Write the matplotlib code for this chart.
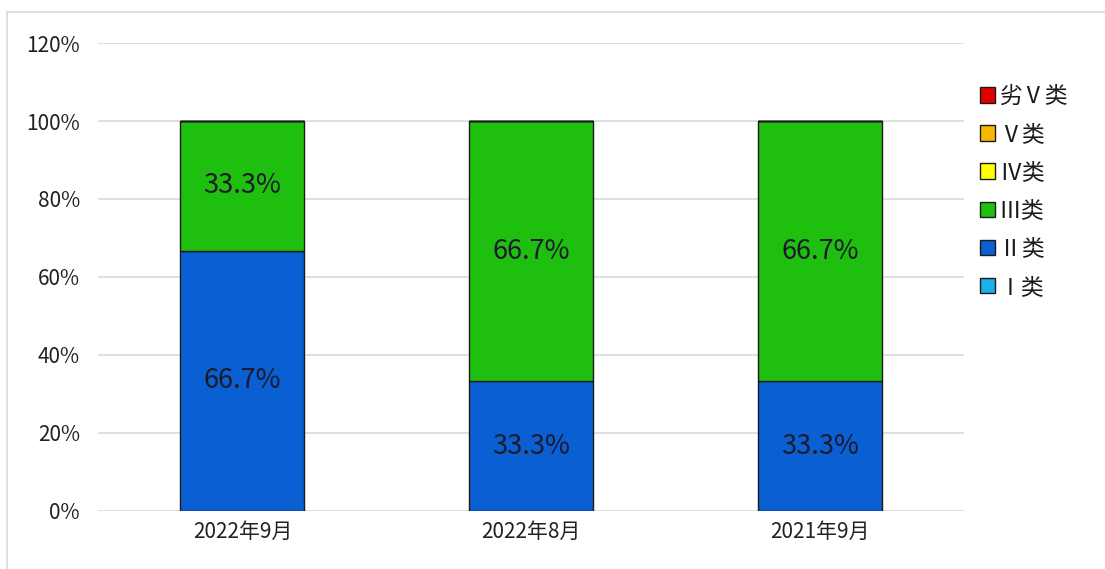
import matplotlib
matplotlib.use("Agg")
import matplotlib.pyplot as plt
from matplotlib.patches import Rectangle
from matplotlib.ticker import MultipleLocator, FuncFormatter

plt.rcParams['font.family'] = ['Noto Sans CJK SC', 'DejaVu Sans']

# data
periods = ["2022年9月", "2022年8月", "2021年9月"]
classes = ["Ⅰ类", "Ⅱ类", "Ⅲ类", "Ⅳ类", "Ⅴ类", "劣Ⅴ类"]
shares = {
    "Ⅰ类": [0.0, 0.0, 0.0],
    "Ⅱ类": [66.7, 33.3, 33.3],
    "Ⅲ类": [33.3, 66.7, 66.7],
    "Ⅳ类": [0.0, 0.0, 0.0],
    "Ⅴ类": [0.0, 0.0, 0.0],
    "劣Ⅴ类": [0.0, 0.0, 0.0],
}
colors = ["#1ab0e8", "#0a5fd2", "#1fbf10", "#ffff00", "#f5b800", "#e00000"]

fig = plt.figure(figsize=(11.05, 5.69), dpi=100)
ax = fig.add_axes([0.0887, 0.102, 0.784, 0.8224])

# light frame around the chart area
fig.patches.append(Rectangle((7 / 1105, -0.05), 1.1, 1 - 12 / 569 + 0.05,
                             transform=fig.transFigure, fill=False,
                             edgecolor="#d9d9d9", linewidth=1.2))

x = list(range(len(periods)))
bottom = [0.0] * len(periods)
handles = []
for cls, col in zip(classes, colors):
    vals = shares[cls]
    bars = ax.bar(x, vals, width=0.43, bottom=bottom, color=col,
                  edgecolor="#1a1a1a", linewidth=1.0, zorder=3)
    handles.append(bars)
    for xi, v, b in zip(x, vals, bottom):
        if v > 0:
            ax.text(xi, b + v / 2, f"{v:.1f}%", ha="center", va="center",
                    fontsize=19.5, color="#1a1a2a", zorder=4)
    bottom = [b + v for b, v in zip(bottom, vals)]

ax.set_xlim(-0.5, 2.5)
ax.set_ylim(0, 120)
ax.yaxis.set_major_locator(MultipleLocator(20))
ax.yaxis.set_major_formatter(FuncFormatter(lambda v, p: f"{int(v)}%"))
ax.set_xticks(x)
ax.set_xticklabels(periods)
ax.tick_params(axis="both", length=0, labelsize=15, colors="#222222")
ax.tick_params(axis="y", pad=13)
ax.tick_params(axis="x", pad=7)
ax.grid(axis="y", color="#d9d9d9", linewidth=1.2, zorder=0)
for s in ax.spines.values():
    s.set_visible(False)

leg = ax.legend(handles[::-1], classes[::-1], loc="upper left",
                bbox_to_anchor=(1.008, 0.93), frameon=False, fontsize=16.5,
                handlelength=0.65, handleheight=0.65, handletextpad=0.15,
                labelspacing=0.66, borderaxespad=0)
for t in leg.get_texts():
    t.set_color("#1a1a1a")

fig.savefig("out.png", dpi=100)
